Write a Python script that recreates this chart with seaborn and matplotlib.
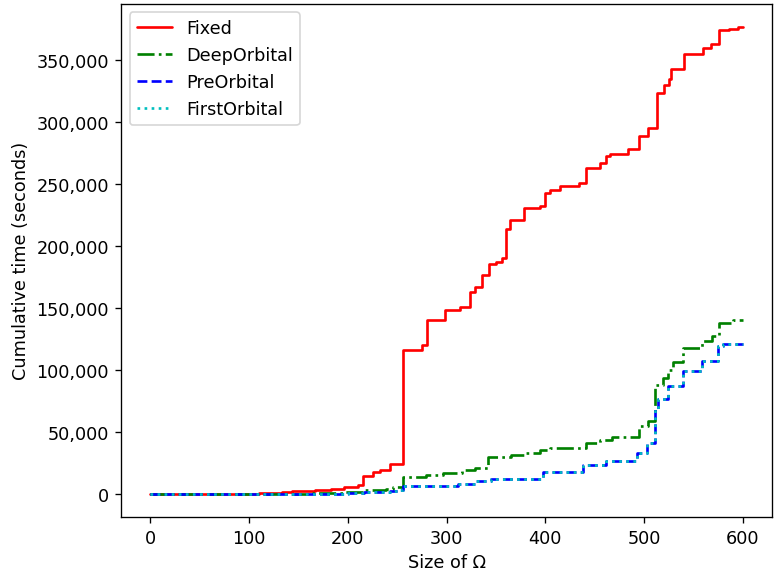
import pandas as pd
import matplotlib
matplotlib.use('Agg')
import matplotlib.pyplot as plt
from matplotlib.ticker import FuncFormatter
import seaborn as sns

# Step breakpoints (size of Omega, cumulative seconds)
fixed_x = [0, 110, 120, 133, 143, 153, 167, 183, 196, 210, 215, 225, 233, 243,
           256, 275, 280, 298, 314, 323.5, 329, 336, 343, 350, 356, 360, 364,
           378, 395, 400, 405, 415, 434, 441, 455, 461, 465, 484, 495, 504,
           513, 520, 525, 527.5, 540, 560, 568, 576, 585.5, 595, 600]
fixed_y = [0, 300, 500, 1100, 1900, 2400, 3200, 3800, 5100, 7300, 14000, 17200,
           18800, 24200, 115700, 119700, 139900, 147900, 150700, 162500, 166800,
           176200, 184800, 187000, 190200, 213600, 220600, 230300, 231900,
           242700, 244800, 248000, 250200, 262800, 266300, 272200, 273600,
           278200, 288400, 294600, 323400, 329300, 334700, 342200, 354300,
           359100, 362900, 373900, 375000, 376300, 376300]

deep_x = [0, 165, 196, 216, 226, 239, 246, 256, 279, 296, 316, 329, 342, 365,
          378.5, 395, 405, 441, 455, 468, 494.5, 504, 511.5, 519, 524, 529,
          539, 559, 569, 576, 590, 600]
deep_y = [0, 300, 1100, 2700, 3200, 4000, 5400, 13400, 15300, 16700, 18800,
          20700, 29600, 31500, 32800, 35000, 36900, 40900, 43000, 45700, 54300,
          58300, 87200, 93300, 100000, 106000, 117600, 122900, 127000, 137700,
          139900, 139900]

pre_x = [0, 200, 216, 243, 253, 256, 263, 312, 329, 345, 398, 438, 461, 493,
         503, 511, 514, 524, 539, 559, 575, 580, 600]
pre_y = [0, 300, 1100, 2400, 3200, 5900, 6500, 8100, 9900, 11800, 17200, 23400,
         26100, 32800, 40900, 67800, 75900, 86600, 98700, 106800, 118900,
         121000, 121000]

first_x = [0, 200, 216, 243, 253, 256, 263, 312, 329, 345, 398, 438, 461, 493,
           503, 511, 514, 524, 539, 559, 575, 580, 600]
first_y = [0, 300, 1100, 2400, 3200, 5900, 6500, 8100, 9900, 11800, 17200,
           23400, 26100, 32800, 40900, 67800, 75900, 86600, 98700, 106800,
           118900, 120800, 120800]

series = [
    ('Fixed', fixed_x, fixed_y, 'r', '-'),
    ('DeepOrbital', deep_x, deep_y, 'g', '-.'),
    ('PreOrbital', pre_x, pre_y, 'b', '--'),
    ('FirstOrbital', first_x, first_y, 'c', ':'),
]

sns.set_style('ticks')
plt.rcParams.update({
    'font.family': ['DejaVu Sans'],
    'font.size': 10.6,
    'text.color': 'black',
    'axes.labelcolor': 'black',
    'axes.edgecolor': 'black',
    'xtick.color': 'black',
    'ytick.color': 'black',
    'axes.linewidth': 0.8,
    'xtick.major.size': 3.5,
    'ytick.major.size': 3.5,
})

fig, ax = plt.subplots(figsize=(6.45, 4.758), dpi=120)
fig.subplots_adjust(left=0.156, right=0.998, top=0.992, bottom=0.093)

for name, xs, ys, color, ls in series:
    df = pd.DataFrame({'size': xs, 'time': ys})
    sns.lineplot(data=df, x='size', y='time', ax=ax, color=color, linestyle=ls,
                 linewidth=1.6, drawstyle='steps-post', label=name,
                 estimator=None, sort=False)

ax.yaxis.set_major_formatter(FuncFormatter(lambda v, p: '{:,.0f}'.format(v)))
ax.set_xlabel('Size of Ω')
ax.set_ylabel('Cumulative time (seconds)')
ax.legend(loc='upper left', frameon=True, fancybox=True, framealpha=0.8,
          edgecolor='#cccccc')
ax.margins(x=0.05, y=0.05)

plt.savefig('out.png', dpi=120)
